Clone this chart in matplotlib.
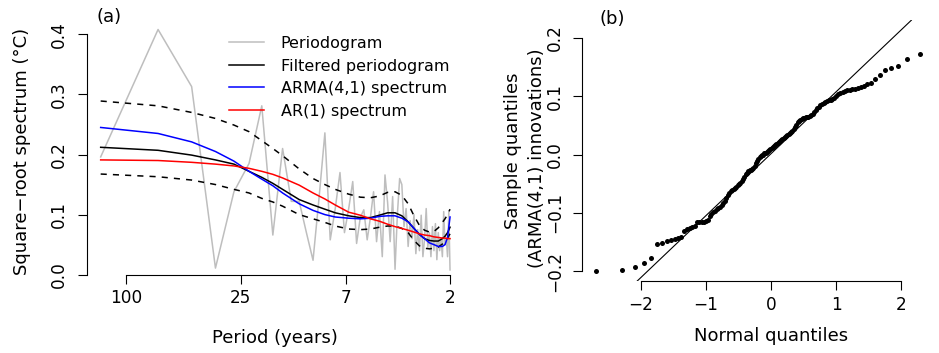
import numpy as np
import matplotlib
matplotlib.use("Agg")
import matplotlib.pyplot as plt
from matplotlib.ticker import NullLocator, FixedLocator, FixedFormatter
from statistics import NormalDist

# ---------------- data: panel (a) ----------------
n_years = 136
periodogram = [0.196, 0.408, 0.313, 0.011, 0.138, 0.185, 0.281, 0.066, 0.210, 0.122,
               0.122, 0.070, 0.024, 0.130, 0.236, 0.058, 0.110, 0.170, 0.070, 0.110,
               0.155, 0.052, 0.095, 0.108, 0.058, 0.095, 0.138, 0.055, 0.105, 0.030,
               0.166, 0.120, 0.055, 0.130, 0.009, 0.100, 0.160, 0.150, 0.080, 0.110,
               0.047, 0.090, 0.060, 0.100, 0.035, 0.075, 0.040, 0.099, 0.030, 0.060,
               0.110, 0.045, 0.070, 0.030, 0.080, 0.040, 0.085, 0.025, 0.070, 0.040,
               0.060, 0.030, 0.105, 0.050, 0.060, 0.030, 0.105, 0.008]
curve_k = [1, 2, 3, 4, 5, 6, 7, 8, 9, 11, 13, 15, 17, 20, 23, 26, 29, 32, 35, 38,
           41, 44, 47, 50, 53, 56, 59, 62, 64, 66, 68]
filtered = [0.212, 0.207, 0.199, 0.191, 0.184, 0.172, 0.162, 0.152, 0.142, 0.125,
            0.116, 0.109, 0.103, 0.098, 0.095, 0.095, 0.099, 0.103, 0.103, 0.098,
            0.088, 0.077, 0.067, 0.060, 0.057, 0.056, 0.056, 0.060, 0.064, 0.070, 0.079]
arma = [0.245, 0.235, 0.221, 0.205, 0.189, 0.172, 0.159, 0.148, 0.136, 0.118,
        0.107, 0.100, 0.096, 0.094, 0.093, 0.094, 0.097, 0.098, 0.098, 0.094,
        0.088, 0.077, 0.067, 0.060, 0.053, 0.050, 0.047, 0.047, 0.050, 0.062, 0.096]
ar1 = [0.191, 0.190, 0.187, 0.184, 0.181, 0.177, 0.172, 0.167, 0.161, 0.149,
       0.136, 0.126, 0.116, 0.104, 0.099, 0.093, 0.089, 0.084, 0.080, 0.077,
       0.074, 0.071, 0.068, 0.066, 0.065, 0.063, 0.062, 0.061, 0.061, 0.060, 0.060]
upper = [0.289, 0.281, 0.270, 0.260, 0.249, 0.238, 0.223, 0.210, 0.198, 0.176,
         0.160, 0.150, 0.142, 0.134, 0.129, 0.128, 0.131, 0.137, 0.138, 0.132,
         0.118, 0.098, 0.082, 0.074, 0.071, 0.072, 0.078, 0.087, 0.093, 0.100, 0.109]
lower = [0.1675, 0.163, 0.1575, 0.150, 0.142, 0.136, 0.127, 0.121, 0.114, 0.100,
         0.093, 0.087, 0.081, 0.076, 0.075, 0.076, 0.079, 0.081, 0.081, 0.077,
         0.070, 0.057, 0.048, 0.044, 0.043, 0.044, 0.046, 0.051, 0.056, 0.061, 0.068]
period_ticks = [100, 25, 7, 2]
a_yticks = [0.0, 0.1, 0.2, 0.3, 0.4]
legend_labels = ["Periodogram", "Filtered periodogram", "ARMA(4,1) spectrum", "AR(1) spectrum"]

# ---------------- data: panel (b) ----------------
innovations = [-0.200, -0.198, -0.193, -0.185, -0.177, -0.154, -0.151, -0.148, -0.146, -0.145,
               -0.143, -0.141, -0.131, -0.128, -0.126, -0.124, -0.122, -0.116, -0.115, -0.115,
               -0.115, -0.114, -0.112, -0.106, -0.102, -0.098, -0.096, -0.094, -0.091, -0.089,
               -0.087, -0.083, -0.079, -0.074, -0.069, -0.065, -0.063, -0.061, -0.059, -0.057,
               -0.055, -0.053, -0.051, -0.049, -0.046, -0.042, -0.038, -0.034, -0.031, -0.029,
               -0.027, -0.026, -0.024, -0.023, -0.019, -0.014, -0.011, -0.008, -0.005, -0.003,
               -0.001, 0.000, 0.002, 0.003, 0.004, 0.006, 0.008, 0.010, 0.011, 0.013,
               0.015, 0.016, 0.018, 0.020, 0.022, 0.023, 0.025, 0.027, 0.028, 0.030,
               0.031, 0.033, 0.035, 0.037, 0.039, 0.041, 0.044, 0.047, 0.051, 0.055,
               0.058, 0.060, 0.061, 0.062, 0.063, 0.064, 0.064, 0.065, 0.066, 0.067,
               0.069, 0.072, 0.076, 0.079, 0.082, 0.084, 0.086, 0.088, 0.090, 0.092,
               0.093, 0.094, 0.095, 0.097, 0.100, 0.103, 0.105, 0.107, 0.108, 0.110,
               0.111, 0.112, 0.113, 0.114, 0.115, 0.117, 0.121, 0.123, 0.129, 0.136,
               0.144, 0.148, 0.152, 0.163, 0.173, 0.2135]
b_xticks = [-2, -1, 0, 1, 2]
b_yticks = [-0.2, -0.1, 0.0, 0.1, 0.2]

# ---------------- figure ----------------
W, H = 939, 353
fig = plt.figure(figsize=(W / 100, H / 100), dpi=100)
plt.rcParams['font.family'] = ['DejaVu Sans']


def rect(l, r, b, t):
    return [l / W, 1 - b / H, (r - l) / W, (b - t) / H]


def ftext(x, y, s, **kw):
    fig.text(x / W, 1 - y / H, s, **kw)


TICK = 12.2
LAB = 13
LW = 1.1

# ----- panel (a) -----
ax1 = fig.add_axes(rect(86.7, 464, 274.7, 28.3))
freq = np.arange(1, len(periodogram) + 1) / n_years
cfreq = np.array(curve_k) / n_years
ax1.set_xscale('log')
ax1.plot(freq, periodogram, color='#BEBEBE', lw=LW, label=legend_labels[0])
ax1.plot(cfreq, upper, color='black', lw=LW, ls=(0, (4, 4)))
ax1.plot(cfreq, lower, color='black', lw=LW, ls=(0, (4, 4)))
ax1.plot(cfreq, filtered, color='black', lw=LW, label=legend_labels[1])
ax1.plot(cfreq, arma, color='blue', lw=LW, label=legend_labels[2])
ax1.plot(cfreq, ar1, color='red', lw=LW, label=legend_labels[3])

lf = np.log(freq)
span = lf.max() - lf.min()
ax1.set_xlim(np.exp(lf.min() - 0.04 * span), np.exp(lf.max() + 0.04 * span))
ax1.set_ylim(0, 0.41)

for s in ['top', 'right']:
    ax1.spines[s].set_visible(False)
ax1.spines['left'].set_bounds(a_yticks[0], a_yticks[-1])
ax1.spines['bottom'].set_bounds(1 / period_ticks[0], 1 / period_ticks[-1])
ax1.xaxis.set_major_locator(FixedLocator([1 / p for p in period_ticks]))
ax1.xaxis.set_major_formatter(FixedFormatter([str(p) for p in period_ticks]))
ax1.xaxis.set_minor_locator(NullLocator())
ax1.set_yticks(a_yticks)
ax1.set_yticklabels(["%.1f" % v for v in a_yticks], rotation=90, va='center')
ax1.tick_params(axis='x', direction='out', length=6.3, width=0.8, labelsize=TICK, pad=4.2)
ax1.tick_params(axis='y', direction='out', length=6.7, width=0.8, labelsize=TICK, pad=6.5)
for s in ['left', 'bottom']:
    ax1.spines[s].set_linewidth(0.8)
ax1.patch.set_visible(False)

leg = ax1.legend(loc='upper left', bbox_to_anchor=(229.3 / W, 1 - 36 / H),
                 bbox_transform=fig.transFigure, frameon=False, fontsize=11.5,
                 handlelength=2.17, handletextpad=1.04, labelspacing=0.47,
                 borderpad=0, borderaxespad=0)
for line in leg.get_lines():
    line.set_linewidth(LW)

ftext(21.7, 151, "Square\u2212root spectrum (\u00b0C)", rotation=90, ha='center', va='center', fontsize=LAB)
ftext(275, 343.1, "Period (years)", ha='center', va='baseline', fontsize=LAB)
ftext(96.7, 16.7, "(a)", ha='left', va='center', fontsize=LAB)

# ----- panel (b) -----
ax2 = fig.add_axes(rect(582.3, 959.7, 281, 20.2))
n = len(innovations)
samp = np.sort(np.array(innovations))
nd = NormalDist()
theo = np.array([nd.inv_cdf((i - 0.5) / n) for i in range(1, n + 1)])
ax2.plot(theo, samp, 'o', color='black', ms=3.6, mec='none')
yq = np.quantile(samp, [0.25, 0.75])
xq = np.array([nd.inv_cdf(0.25), nd.inv_cdf(0.75)])
slope = (yq[1] - yq[0]) / (xq[1] - xq[0])
icpt = yq[0] - slope * xq[0]
ax2.axline((0, icpt), slope=slope, color='black', lw=0.8)
tr = theo.max() - theo.min()
sr = samp.max() - samp.min()
ax2.set_xlim(theo.min() - 0.04 * tr, theo.max() + 0.04 * tr)
ax2.set_ylim(samp.min() - 0.04 * sr, samp.max() + 0.04 * sr)
for s in ['top', 'right']:
    ax2.spines[s].set_visible(False)
ax2.spines['left'].set_bounds(b_yticks[0], b_yticks[-1])
ax2.spines['bottom'].set_bounds(b_xticks[0], b_xticks[-1])
ax2.set_xticks(b_xticks)
ax2.set_xticklabels([("%d" % v).replace('-', '\u2212') for v in b_xticks])
ax2.set_yticks(b_yticks)
ax2.set_yticklabels([("%.1f" % v).replace('-', '\u2212') for v in b_yticks], rotation=90, va='center')
ax2.tick_params(axis='x', direction='out', length=6.3, width=0.8, labelsize=TICK, pad=4.2)
ax2.tick_params(axis='y', direction='out', length=6.7, width=0.8, labelsize=TICK, pad=6.5)
for s in ['left', 'bottom']:
    ax2.spines[s].set_linewidth(0.8)
ax2.patch.set_visible(False)

ftext(513.3, 150.7, "Sample quantiles", rotation=90, ha='center', va='center', fontsize=LAB)
ftext(536.7, 158, "(ARMA(4,1) innovations)", rotation=90, ha='center', va='center', fontsize=LAB)
ftext(771, 341.4, "Normal quantiles", ha='center', va='baseline', fontsize=LAB)
ftext(599.3, 19.3, "(b)", ha='left', va='center', fontsize=LAB)

fig.savefig("out.png", dpi=100)
